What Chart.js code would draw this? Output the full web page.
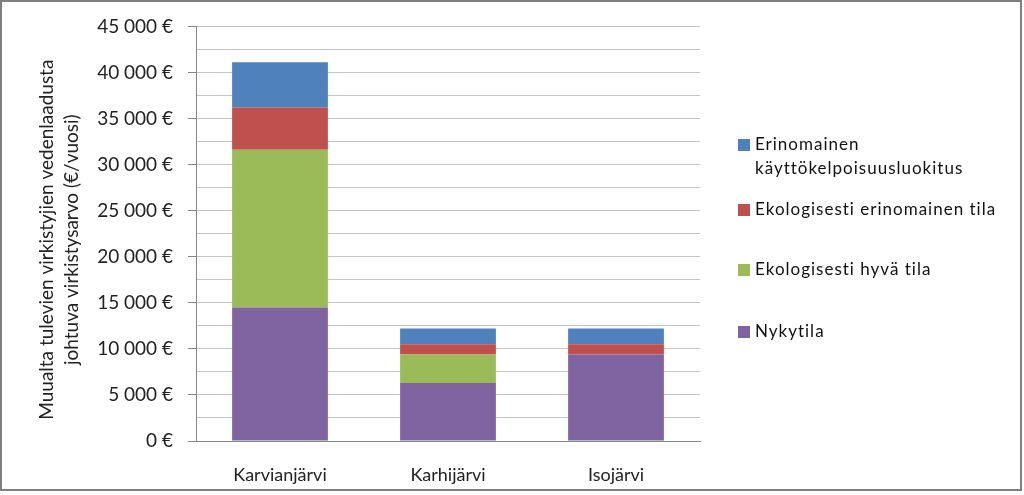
<!DOCTYPE html>
<html>
<head>
<meta charset="utf-8">
<script src="https://cdn.jsdelivr.net/npm/chart.js@4"></script>
<style>
  html, body { margin: 0; padding: 0; background: #fff; }
  #wrap { position: relative; width: 1024px; height: 495px; }
  #frame { position: absolute; left: 0; top: 0; width: 1018px; height: 487px; border: 2px solid #7f7f7f; pointer-events: none; }
  canvas { position: absolute; left: 0; top: 0; }
</style>
</head>
<body>
<div id="wrap">
  <canvas id="chart" width="1024" height="495"></canvas>
  <div id="frame"></div>
</div>
<script>
// Data
const lakes = ["Karvianjärvi", "Karhijärvi", "Isojärvi"];
const nykytila = [14500, 6300, 9400];
const hyvaTila = [17100, 3100, 0];
const erinomainenTila = [4600, 1100, 1100];
const kayttokelpoisuus = [4900, 1700, 1700];
const seriesNames = ["Nykytila", "Ekologisesti hyvä tila", "Ekologisesti erinomainen tila", "Erinomainen käyttökelpoisuusluokitus"];
const yTitle = ["Muualta tulevien virkistyjien vedenlaadusta", "johtuva virkistysarvo (€/vuosi)"];

const FONT = "Lato, 'Open Sans', sans-serif";

function euro(v) {
  const s = String(v).replace(/\B(?=(\d{3})+(?!\d))/g, "\u00a0");
  return s + "\u00a0€";
}

// y-axis title and right side legend
const extras = {
  id: "extras",
  afterDraw(chart) {
    const c = chart.ctx;
    const area = chart.chartArea;
    c.save();
    c.fillStyle = "#222";
    c.font = "19px " + FONT;
    c.textAlign = "center";
    c.textBaseline = "middle";
    c.translate(59, (area.top + area.bottom) / 2 + 6);
    c.rotate(-Math.PI / 2);
    c.fillText(yTitle[0], 0, -12);
    c.fillText(yTitle[1], 0, 13);
    c.restore();

    // legend, top item = last dataset
    const rows = [145, 210, 270, 332];
    const sets = chart.data.datasets.slice().reverse();
    c.save();
    c.font = "17px " + FONT;
    c.letterSpacing = "1px";
    c.textAlign = "left";
    c.textBaseline = "middle";
    sets.forEach((ds, i) => {
      const y = rows[i];
      c.fillStyle = ds.backgroundColor;
      c.fillRect(738, y - 6, 12, 12);
      c.fillStyle = "#111";
      // simple word wrap
      const words = ds.label.split(" ");
      let line = "", ly = y;
      words.forEach(w => {
        const test = line ? line + " " + w : w;
        if (line && c.measureText(test).width > 255) {
          c.fillText(line, 755, ly);
          line = w;
          ly += 24;
        } else {
          line = test;
        }
      });
      c.fillText(line, 755, ly);
    });
    c.restore();
  }
};

new Chart(document.getElementById("chart"), {
  type: "bar",
  data: {
    labels: lakes,
    datasets: [
      { label: seriesNames[0], data: nykytila, backgroundColor: "#8064A2" },
      { label: seriesNames[1], data: hyvaTila, backgroundColor: "#9BBB59" },
      { label: seriesNames[2], data: erinomainenTila, backgroundColor: "#C0504D" },
      { label: seriesNames[3], data: kayttokelpoisuus, backgroundColor: "#4F81BD" }
    ]
  },
  options: {
    responsive: false,
    animation: false,
    datasets: { bar: { barPercentage: 0.57, categoryPercentage: 1 } },
    layout: { padding: { top: 24, right: 324, left: 0, bottom: 0 } },
    plugins: { legend: { display: false }, tooltip: { enabled: false } },
    scales: {
      x: {
        stacked: true,
        grid: { display: false },
        border: { display: true, color: "#868686" },
        ticks: { color: "#222", padding: 15, font: { family: FONT, size: 18 } },
        afterFit(scale) { scale.height = 54; }
      },
      y: {
        stacked: true,
        min: 0,
        max: 45000,
        ticks: {
          stepSize: 2500,
          autoSkip: false,
          padding: 15,
          color: "#222",
          font: { family: FONT, size: 19 },
          callback: v => (v % 5000 === 0 ? euro(v) : "")
        },
        grid: {
          color: "#c4c4c4",
          tickLength: 8,
          tickColor: ctx => (ctx.tick && ctx.tick.value % 5000 === 0 ? "#868686" : "rgba(0,0,0,0)")
        },
        border: { display: true, color: "#868686" },
        afterFit(scale) { scale.width = 196; }
      }
    }
  },
  plugins: [extras]
});
</script>
</body>
</html>
